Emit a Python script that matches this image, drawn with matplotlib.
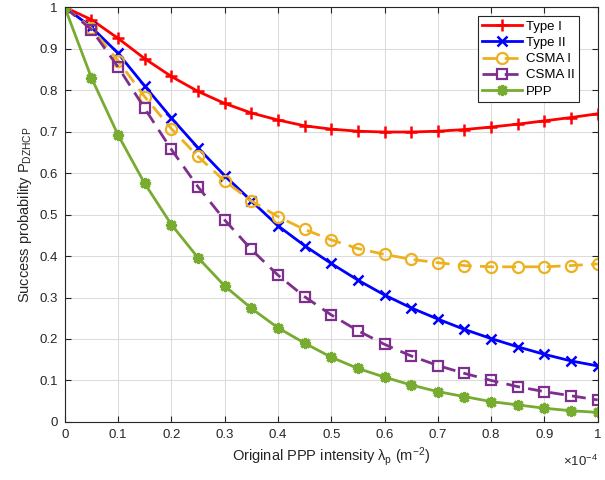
import matplotlib.pyplot as plt

plt.rcParams['font.family'] = ['Liberation Sans', 'DejaVu Sans']
plt.rcParams['mathtext.fontset'] = 'custom'
plt.rcParams['mathtext.rm'] = 'Liberation Sans'
plt.rcParams['mathtext.it'] = 'Liberation Sans:italic'

# intensity in units of 1e-4 m^-2
lam = [0, 0.05, 0.1, 0.15, 0.2, 0.25, 0.3, 0.35, 0.4, 0.45, 0.5,
       0.55, 0.6, 0.65, 0.7, 0.75, 0.8, 0.85, 0.9, 0.95, 1.0]

type1 = [1.0, 0.970, 0.925, 0.876, 0.833, 0.797, 0.768, 0.745, 0.728, 0.714, 0.706,
         0.701, 0.699, 0.699, 0.701, 0.705, 0.711, 0.718, 0.726, 0.734, 0.743]
type2 = [1.0, 0.952, 0.889, 0.810, 0.733, 0.661, 0.594, 0.533, 0.473, 0.425, 0.382,
         0.342, 0.306, 0.275, 0.248, 0.223, 0.201, 0.181, 0.163, 0.147, 0.135]
csma1 = [1.0, 0.949, 0.871, 0.784, 0.707, 0.640, 0.581, 0.533, 0.495, 0.464, 0.439,
         0.418, 0.404, 0.392, 0.384, 0.377, 0.374, 0.374, 0.374, 0.377, 0.381]
csma2 = [1.0, 0.946, 0.856, 0.756, 0.657, 0.567, 0.487, 0.416, 0.354, 0.302, 0.258,
         0.220, 0.187, 0.159, 0.136, 0.117, 0.100, 0.085, 0.073, 0.063, 0.053]
ppp = [1.0, 0.830, 0.692, 0.575, 0.476, 0.396, 0.328, 0.274, 0.227, 0.190, 0.156,
       0.129, 0.108, 0.089, 0.073, 0.061, 0.049, 0.041, 0.033, 0.027, 0.023]

x_ticks = [0, 0.1, 0.2, 0.3, 0.4, 0.5, 0.6, 0.7, 0.8, 0.9, 1]
x_labels = ['0', '0.1', '0.2', '0.3', '0.4', '0.5', '0.6', '0.7', '0.8', '0.9', '1']
y_ticks = [0, 0.1, 0.2, 0.3, 0.4, 0.5, 0.6, 0.7, 0.8, 0.9, 1]
y_labels = ['0', '0.1', '0.2', '0.3', '0.4', '0.5', '0.6', '0.7', '0.8', '0.9', '1']

fig = plt.figure(figsize=(6.05, 4.8), dpi=100)
ax = fig.add_axes([0.107, 0.121, 0.881, 0.864])

ax.plot(lam, type1, color='#ff0000', lw=2, marker='+', ms=8, mew=1.8, label='Type I')
ax.plot(lam, type2, color='#0000ff', lw=2, marker='x', ms=7, mew=1.8, label='Type II')
ax.plot(lam, csma1, color='#edb120', lw=2, ls=(0, (5, 3)), marker='o', ms=8, mew=1.6,
        mfc='none', label='CSMA I')
ax.plot(lam, csma2, color='#7e2f8e', lw=2, ls=(0, (5, 3)), marker='s', ms=7, mew=1.6,
        mfc='none', label='CSMA II')
ax.plot(lam, ppp, color='#77ac30', lw=2, marker=(8, 2, 0), ms=8, mew=2.2, label='PPP')

ax.set_xlim(0, 1)
ax.set_ylim(0, 1)
ax.set_xticks(x_ticks)
ax.set_xticklabels(x_labels)
ax.set_yticks(y_ticks)
ax.set_yticklabels(y_labels)
ax.grid(True, color='#dcdcdc', lw=0.8)
ax.set_axisbelow(True)
ax.tick_params(direction='in', top=True, right=True, labelsize=9.5, colors='#262626',
               length=4, pad=5)
for s in ax.spines.values():
    s.set_color('#262626')
    s.set_linewidth(0.8)

ax.set_xlabel('Original PPP intensity λ$_{\\mathrm{p}}$ (m$^{-2}$)', fontsize=10.5,
              color='#262626', labelpad=3)
ax.set_ylabel('Success probability P$_{\\mathrm{DZHCP}}$', fontsize=10.5, color='#262626',
              labelpad=4)
ax.text(1.0, -0.078, r'$\times$10$^{-4}$', transform=ax.transAxes, ha='right', va='top',
        fontsize=9.5, color='#262626')

leg = ax.legend(loc='upper right', bbox_to_anchor=(0.97, 0.985), fontsize=9.5,
                fancybox=False, edgecolor='#262626', framealpha=1, handlelength=3.0,
                borderpad=0.35, labelspacing=0.3, handletextpad=0.3, borderaxespad=0.2)
leg.get_frame().set_linewidth(0.8)

fig.savefig('out.png', dpi=100)
